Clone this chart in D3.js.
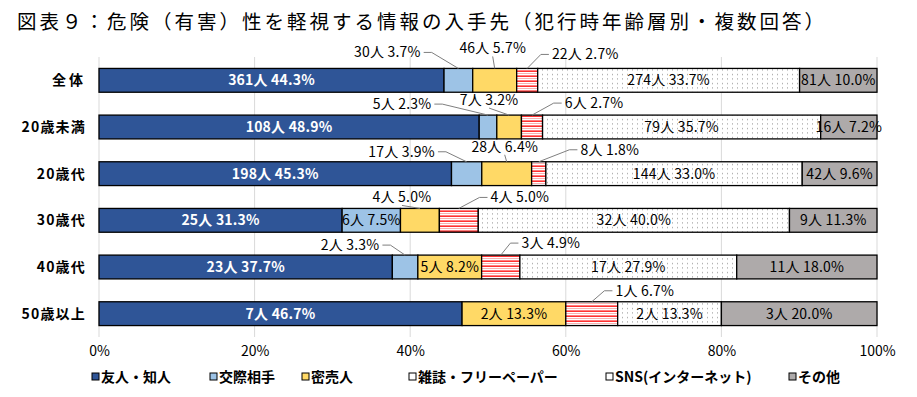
<!DOCTYPE html>
<html lang="ja">
<head>
<meta charset="utf-8">
<title>図表９</title>
<script src="https://cdn.jsdelivr.net/npm/d3@7"></script>
<style>
  body { margin: 0; background: #fff; }
  svg { display: block; font-family: "Noto Sans CJK JP", "Noto Sans", sans-serif; }
</style>
</head>
<body>
<svg width="917" height="397"></svg>
<script>
// データ（犯行時年齢層別・人数と構成比）
var categories = ["全体", "20歳未満", "20歳代", "30歳代", "40歳代", "50歳以上"];
var seriesNames = ["友人・知人", "交際相手", "密売人", "雑誌・フリーペーパー", "SNS(インターネット)", "その他"];

var friendCount   = [361, 108, 198, 25, 23, 7];
var partnerCount  = [30, 5, 17, 6, 2, 0];
var dealerCount   = [46, 7, 28, 4, 5, 2];
var magazineCount = [22, 6, 8, 4, 3, 1];
var snsCount      = [274, 79, 144, 32, 17, 2];
var otherCount    = [81, 16, 42, 9, 11, 3];

var friendPct   = [44.3, 48.9, 45.3, 31.3, 37.7, 46.7];
var partnerPct  = [3.7, 2.3, 3.9, 7.5, 3.3, 0];
var dealerPct   = [5.7, 3.2, 6.4, 5.0, 8.2, 13.3];
var magazinePct = [2.7, 2.7, 1.8, 5.0, 4.9, 6.7];
var snsPct      = [33.7, 35.7, 33.0, 40.0, 27.9, 13.3];
var otherPct    = [10.0, 7.2, 9.6, 11.3, 18.0, 20.0];

var xTicks = [0, 20, 40, 60, 80, 100];

var counts = [friendCount, partnerCount, dealerCount, magazineCount, snsCount, otherCount];
var pcts = [friendPct, partnerPct, dealerPct, magazinePct, snsPct, otherPct];

// 吹き出しラベルの位置（セグメント上端中央からのずれ）  "行-系列"
var callouts = {
  "0-1": [-71, -16], "0-2": [-2, -20], "0-3": [58, -14],
  "1-1": [-86, -11], "1-2": [-20, -15], "1-3": [62, -12],
  "2-1": [-65, -10], "2-2": [-2, -15], "2-3": [71, -12],
  "3-2": [-18, -11], "3-3": [61, -11],
  "4-1": [-55, -10], "4-3": [50, -12],
  "5-3": [53, -11]
};

var fills = ["#2F5597", "#9DC3E6", "#FFD966", "url(#stripes)", "url(#dots)", "#AEAAAA"];
var legendFills = ["#2F5597", "#9DC3E6", "#FFD966", "#FFFFFF", "#FFFFFF", "#AEAAAA"];

var svg = d3.select("svg");

// 模様
var defs = svg.append("defs");
var st = defs.append("pattern").attr("id", "stripes")
  .attr("patternUnits", "userSpaceOnUse").attr("width", 8).attr("height", 5);
st.append("rect").attr("width", 8).attr("height", 5).attr("fill", "#fff");
st.append("rect").attr("y", 0.5).attr("width", 8).attr("height", 1.3).attr("fill", "#FF0000");
st.append("rect").attr("y", 3).attr("width", 8).attr("height", 0.9).attr("fill", "#F7A8A8");
var dt = defs.append("pattern").attr("id", "dots")
  .attr("patternUnits", "userSpaceOnUse").attr("width", 5).attr("height", 4.5);
dt.append("rect").attr("width", 5).attr("height", 4.5).attr("fill", "#fff");
dt.append("rect").attr("x", 2).attr("y", 2).attr("width", 1).attr("height", 1).attr("fill", "#8c8c8c");

// タイトル
svg.append("text")
  .attr("x", 17).attr("y", 29)
  .attr("font-size", 19.5).attr("letter-spacing", 3)
  .attr("fill", "#000")
  .text("図表９：危険（有害）性を軽視する情報の入手先（犯行時年齢層別・複数回答）");

var x = d3.scaleLinear().domain([0, 100]).range([99, 877]);
var y = d3.scaleBand().domain(categories).range([57, 337]).paddingInner(0.49).paddingOuter(0.245);

// 目盛線
svg.append("g").selectAll("line").data(xTicks).enter().append("line")
  .attr("x1", function (d) { return x(d); }).attr("x2", function (d) { return x(d); })
  .attr("y1", 57).attr("y2", 337)
  .attr("stroke", "#d9d9d9").attr("stroke-width", 1);

var xAxis = svg.append("g").attr("transform", "translate(0,337)")
  .call(d3.axisBottom(x).tickValues(xTicks).tickSize(0).tickPadding(9).tickFormat(function (d) { return d + "%"; }));
xAxis.select(".domain").remove();
xAxis.selectAll("text").attr("font-size", 14).attr("fill", "#000")
  .attr("font-family", "\"Noto Sans CJK JP\", sans-serif");

// カテゴリ名
svg.append("g").selectAll("text").data(categories).enter().append("text")
  .attr("x", 86).attr("y", function (d) { return y(d) + y.bandwidth() / 2; })
  .attr("dy", "0.36em").attr("text-anchor", "end")
  .attr("font-size", 14).attr("font-weight", "bold").attr("letter-spacing", function (d) { return d === "全体" ? 3 : 1.2; })
  .text(function (d) { return d; });

// 積み上げ（行ごとに100%へ正規化）
var segs = [];
categories.forEach(function (cat, r) {
  var total = d3.sum(counts, function (s) { return s[r]; });
  var acc = 0;
  counts.forEach(function (s, k) {
    var v = s[r] / total * 100;
    segs.push({ row: r, cat: cat, k: k, x0: acc, x1: acc + v, n: s[r], pct: pcts[k][r] });
    acc += v;
  });
});

svg.append("g").selectAll("rect").data(segs.filter(function (d) { return d.n > 0; })).enter().append("rect")
  .attr("x", function (d) { return x(d.x0); })
  .attr("width", function (d) { return x(d.x1) - x(d.x0); })
  .attr("y", function (d) { return y(d.cat); })
  .attr("height", y.bandwidth())
  .attr("fill", function (d) { return fills[d.k]; })
  .attr("stroke", "#000").attr("stroke-width", 1.3);

function labelText(d) { return d.n + "人 " + d.pct.toFixed(1) + "%"; }

// 棒の中のラベル
var inside = segs.filter(function (d) { return d.n > 0 && !callouts[d.row + "-" + d.k]; });
svg.append("g").selectAll("text").data(inside).enter().append("text")
  .attr("x", function (d) { return x((d.x0 + d.x1) / 2); })
  .attr("y", function (d) { return y(d.cat) + y.bandwidth() / 2; })
  .attr("dy", "0.36em").attr("text-anchor", "middle")
  .attr("font-size", 14).attr("letter-spacing", 0.2)
  .attr("font-weight", function (d) { return d.k === 0 ? "bold" : "normal"; })
  .attr("fill", function (d) { return d.k === 0 ? "#fff" : "#000"; })
  .text(labelText);

// 吹き出しラベルと引き出し線
var outside = segs.filter(function (d) { return d.n > 0 && callouts[d.row + "-" + d.k]; });
var og = svg.append("g");
outside.forEach(function (d) {
  var off = callouts[d.row + "-" + d.k];
  var sx = x((d.x0 + d.x1) / 2), sy = y(d.cat);
  var cx = sx + off[0], cy = sy + off[1];
  var t = og.append("text").attr("x", cx).attr("y", cy).attr("dy", "0.36em")
    .attr("text-anchor", "middle").attr("font-size", 14).attr("letter-spacing", 0.2).attr("fill", "#000")
    .text(labelText(d));
  var w = t.node().getComputedTextLength();
  var pts;
  if (off[0] < -20) {
    pts = [[cx + w / 2 + 3, cy], [cx + w / 2 + 11, cy], [sx, sy]];
  } else if (off[0] > 20) {
    pts = [[cx - w / 2 - 3, cy], [cx - w / 2 - 11, cy], [sx, sy]];
  } else {
    pts = [[cx, cy + 8], [sx, sy]];
  }
  og.insert("path", "text").attr("d", d3.line()(pts))
    .attr("fill", "none").attr("stroke", "#7f7f7f").attr("stroke-width", 1);
});

// 凡例
var legendX = [92, 210, 302, 409, 606, 789];
var lg = svg.append("g").selectAll("g").data(seriesNames).enter().append("g")
  .attr("transform", function (d, i) { return "translate(" + legendX[i] + ",377)"; });
lg.append("rect").attr("x", 0).attr("y", -4).attr("width", 7).attr("height", 7)
  .attr("fill", function (d, i) { return legendFills[i]; })
  .attr("stroke", "#000").attr("stroke-width", 1);
lg.append("text").attr("x", 9).attr("dy", "0.36em")
  .attr("font-size", 14).attr("font-weight", "bold")
  .text(function (d) { return d; });
</script>
</body>
</html>
